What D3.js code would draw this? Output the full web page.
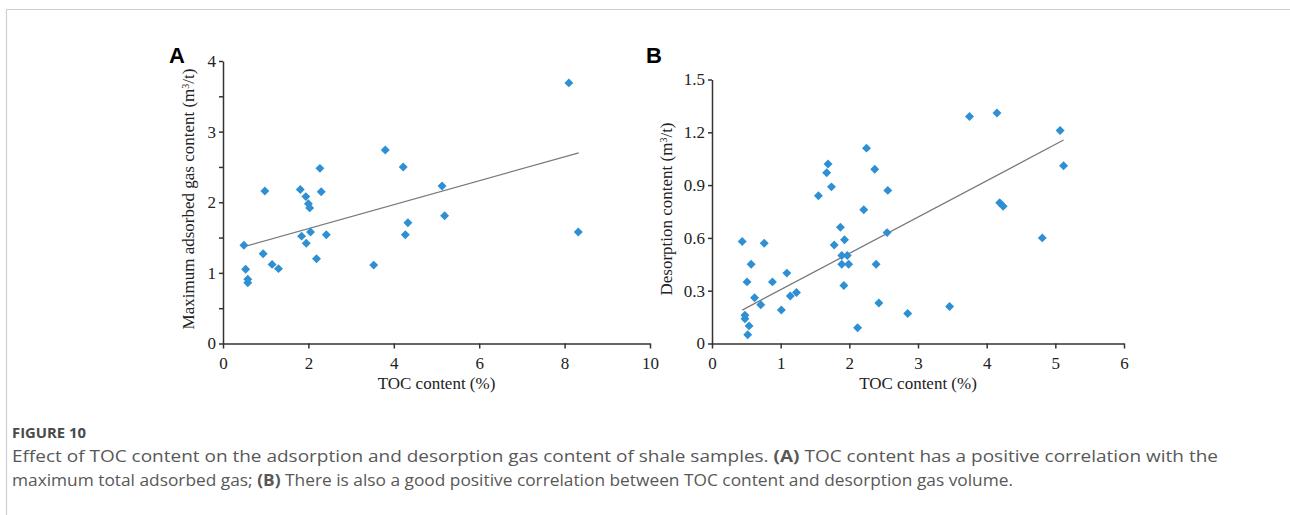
<!DOCTYPE html>
<html lang="en">
	<head>
		<meta charset="utf-8">
		<title> Figure 10 </title>
		<script type="text/javascript" src="https://cdnjs.cloudflare.com/ajax/libs/d3/7.8.5/d3.min.js"></script>
		<style type="text/css">
			body { margin: 0; background: #fff; }
			.axis path, .axis line { stroke: #333; stroke-width: 1.5; }
		</style>
	</head>
	<body>
		<div id="chart"></div>
		<script type="text/javascript">

			// Panel A: TOC (%) vs maximum adsorbed gas (m3/t)
			var tocA = [8.10, 3.80, 4.22, 2.27, 0.98, 1.81, 2.30, 1.94, 2.00, 2.03,
						5.13, 5.19, 4.33, 4.27, 2.05, 1.84, 2.42, 1.95, 8.32, 0.49,
						0.94, 2.19, 3.53, 1.15, 1.30, 0.53, 0.58, 0.58];
			var gasA = [3.69, 2.74, 2.50, 2.48, 2.16, 2.18, 2.15, 2.08, 1.98, 1.92,
						2.23, 1.81, 1.71, 1.54, 1.58, 1.52, 1.54, 1.42, 1.58, 1.39,
						1.27, 1.20, 1.11, 1.12, 1.06, 1.05, 0.91, 0.86];
			var trendA_x = [0.49, 8.33];
			var trendA_y = [1.37, 2.70];

			// Panel B: TOC (%) vs desorption content (m3/t)
			var tocB = [3.75, 4.15, 5.07, 5.12, 2.25, 1.69, 1.67, 1.74, 2.37, 2.56,
						1.55, 4.19, 4.24, 2.21, 4.81, 2.55, 1.87, 1.78, 1.93, 0.44,
						0.76, 1.89, 1.97, 1.89, 1.99, 2.39, 0.57, 1.09, 0.51, 0.88,
						1.92, 0.62, 1.14, 1.23, 0.71, 1.01, 2.43, 3.46, 2.85, 0.48,
						0.48, 0.54, 2.12, 0.52];
			var desB = [1.29, 1.31, 1.21, 1.01, 1.11, 1.02, 0.97, 0.89, 0.99, 0.87,
						0.84, 0.80, 0.78, 0.76, 0.60, 0.63, 0.66, 0.56, 0.59, 0.58,
						0.57, 0.50, 0.50, 0.45, 0.45, 0.45, 0.45, 0.40, 0.35, 0.35,
						0.33, 0.26, 0.27, 0.29, 0.22, 0.19, 0.23, 0.21, 0.17, 0.16,
						0.14, 0.10, 0.09, 0.05];
			var trendB_x = [0.44, 5.12];
			var trendB_y = [0.19, 1.156];

			// tick values
			var ticksAx = [0, 2, 4, 6, 8, 10];
			var ticksAy = [0, 0.5, 1, 1.5, 2, 2.5, 3, 3.5, 4];
			var ticksBx = [0, 1, 2, 3, 4, 5, 6];
			var ticksBy = [0, 0.3, 0.6, 0.9, 1.2, 1.5];

			var w = 1290;
			var h = 515;
			var dotColor = "#2f8fd3";
			var serif = "Liberation Serif, DejaVu Serif, serif";

			var svg = d3.select("#chart")
				.append("svg")
				.attr("width", w)
				.attr("height", h);

			// page frame
			svg.append("path")
				.attr("d", "M6.5," + h + "V9.5H" + w)
				.attr("fill", "none")
				.attr("stroke", "#cfcfcf")
				.attr("stroke-width", 1.2);

			var diamond = d3.symbol().type(d3.symbolSquare).size(40);

			function drawPanel(opt) {
				var xScale = d3.scaleLinear().domain(opt.xDomain).range(opt.xRange);
				var yScale = d3.scaleLinear().domain(opt.yDomain).range(opt.yRange);

				var xAxis = d3.axisBottom(xScale)
					.tickValues(opt.xTicks)
					.tickSize(5)
					.tickSizeOuter(0)
					.tickPadding(8)
					.tickFormat(d3.format("d"));
				var yAxis = d3.axisLeft(yScale)
					.tickValues(opt.yTicks)
					.tickSize(4)
					.tickSizeOuter(0)
					.tickPadding(3)
					.tickFormat(opt.yFormat);

				var gx = svg.append("g")
					.attr("class", "axis")
					.attr("transform", "translate(0," + opt.yRange[0] + ")")
					.call(xAxis);
				var gy = svg.append("g")
					.attr("class", "axis")
					.attr("transform", "translate(" + opt.xRange[0] + ",0)")
					.call(yAxis);
				[gx, gy].forEach(function(g) {
					g.selectAll("text")
						.attr("font-family", serif)
						.attr("font-size", "17px")
						.attr("fill", "#222");
				});

				// trend line
				svg.append("line")
					.attr("x1", xScale(opt.tx[0]))
					.attr("y1", yScale(opt.ty[0]))
					.attr("x2", xScale(opt.tx[1]))
					.attr("y2", yScale(opt.ty[1]))
					.attr("stroke", "#7a7a7a")
					.attr("stroke-width", 1.3);

				// points
				svg.append("g")
					.selectAll("path")
					.data(opt.xs)
					.enter()
					.append("path")
					.attr("d", diamond)
					.attr("transform", function(d, i) {
						return "translate(" + xScale(d) + "," + yScale(opt.ys[i]) + ") rotate(45)";
					})
					.attr("fill", dotColor);

				// axis titles
				svg.append("text")
					.attr("x", (opt.xRange[0] + opt.xRange[1]) / 2)
					.attr("y", 389)
					.attr("text-anchor", "middle")
					.attr("font-family", serif)
					.attr("font-size", "17px")
					.attr("fill", "#222")
					.text("TOC content (%)");

				var yt = svg.append("text")
					.attr("transform", "translate(" + opt.yTitleX + "," + opt.yTitleY + ") rotate(-90)")
					.attr("text-anchor", "middle")
					.attr("font-family", serif)
					.attr("font-size", "17px")
					.attr("fill", "#222");
				yt.append("tspan").text(opt.yTitle + " (m");
				yt.append("tspan").attr("baseline-shift", "super").attr("font-size", "10px").text("3");
				yt.append("tspan").text("/t)");

				// panel letter
				svg.append("text")
					.attr("x", opt.letterX)
					.attr("y", 63)
					.attr("font-family", "Liberation Sans, Arial, sans-serif")
					.attr("font-weight", "bold")
					.attr("font-size", "22px")
					.attr("fill", "#000")
					.text(opt.letter);
			}

			drawPanel({
				xs: tocA, ys: gasA, tx: trendA_x, ty: trendA_y,
				xDomain: [0, 10], xRange: [223, 650],
				yDomain: [0, 4], yRange: [343.5, 61],
				xTicks: ticksAx, yTicks: ticksAy,
				yFormat: function(d) { return d % 1 === 0 ? d : ""; },
				yTitle: "Maximum adsorbed gas content",
				yTitleX: 194, yTitleY: 199,
				letter: "A", letterX: 169
			});

			drawPanel({
				xs: tocB, ys: desB, tx: trendB_x, ty: trendB_y,
				xDomain: [0, 6], xRange: [712, 1124],
				yDomain: [0, 1.5], yRange: [343.5, 79.5],
				xTicks: ticksBx, yTicks: ticksBy,
				yFormat: function(d) { return d === 0 ? "0" : d3.format(".1f")(d); },
				yTitle: "Desorption content",
				yTitleX: 672, yTitleY: 209,
				letter: "B", letterX: 646
			});

			// caption
			svg.append("text")
				.attr("x", 12)
				.attr("y", 438)
				.attr("font-family", "Open Sans, sans-serif")
				.attr("font-size", "14px")
				.attr("font-weight", "bold")
				.attr("fill", "#4a4a4a")
				.attr("textLength", 74)
				.attr("lengthAdjust", "spacingAndGlyphs")
				.text("FIGURE 10");

			var cap1 = svg.append("text")
				.attr("x", 12)
				.attr("y", 462)
				.attr("font-family", "Open Sans, sans-serif")
				.attr("font-size", "16.5px")
				.attr("fill", "#585858")
				.attr("textLength", 1206)
				.attr("lengthAdjust", "spacingAndGlyphs");
			cap1.append("tspan").text("Effect of TOC content on the adsorption and desorption gas content of shale samples. ");
			cap1.append("tspan").attr("font-weight", "bold").text("(A)");
			cap1.append("tspan").text(" TOC content has a positive correlation with the");

			var cap2 = svg.append("text")
				.attr("x", 12)
				.attr("y", 486)
				.attr("font-family", "Open Sans, sans-serif")
				.attr("font-size", "16.5px")
				.attr("fill", "#585858")
				.attr("textLength", 1001)
				.attr("lengthAdjust", "spacingAndGlyphs");
			cap2.append("tspan").text("maximum total adsorbed gas; ");
			cap2.append("tspan").attr("font-weight", "bold").text("(B)");
			cap2.append("tspan").text(" There is also a good positive correlation between TOC content and desorption gas volume.");

		</script>
	</body>
</html>
